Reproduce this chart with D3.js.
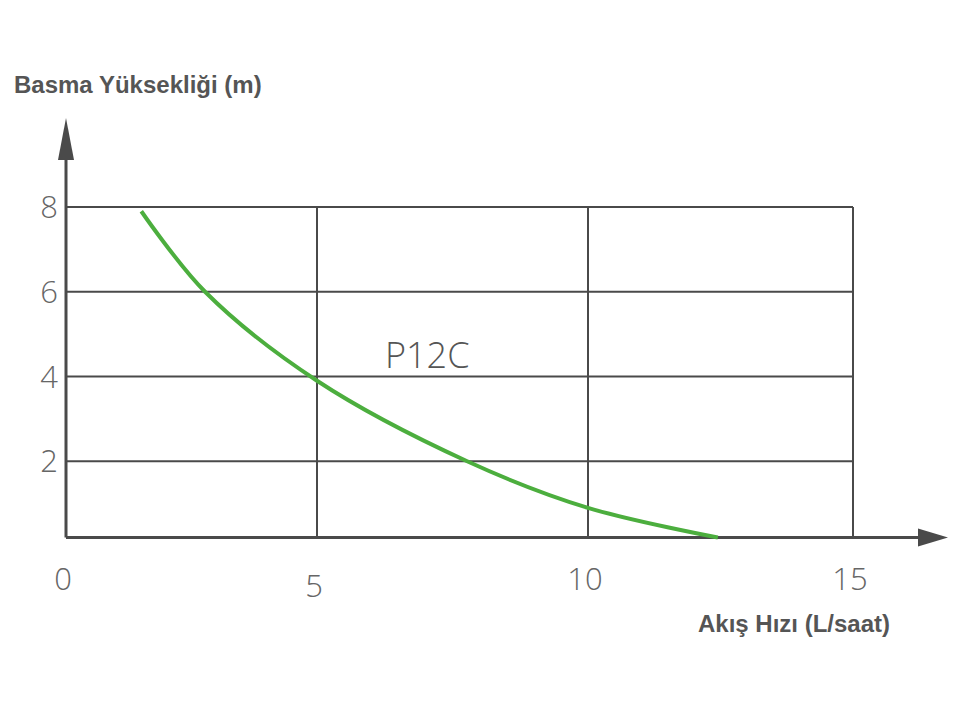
<!DOCTYPE html>
<html><head><meta charset="utf-8">
<script src="https://cdn.jsdelivr.net/npm/d3@7"></script>
<style>body{margin:0;background:#fff}</style>
</head><body>
<svg id="c" width="960" height="712"></svg>
<script>
const xTicks = [0, 5, 10, 15];
const yTicks = [2, 4, 6, 8];
const flow = [1.5, 2.77, 5, 7.77, 10, 12.45];
const head = [7.9, 6, 3.9, 2, 0.9, 0.2];
const seriesName = "P12C";

const svg = d3.select("#c");
const x = d3.scaleLinear().domain([0, 5, 10, 15]).range([66, 317, 588, 853]);
const y = d3.scaleLinear().domain([0, 8]).range([546, 207]);
const base = y(0.2);
const grey = "#4a4a4a";

// grid
svg.selectAll(".vg").data(xTicks.slice(1)).enter().append("line")
  .attr("x1", d => x(d)).attr("x2", d => x(d)).attr("y1", y(8)).attr("y2", base)
  .attr("stroke", grey).attr("stroke-width", 2);
svg.selectAll(".hg").data(yTicks).enter().append("line")
  .attr("x1", x(0)).attr("x2", x(15)).attr("y1", d => y(d)).attr("y2", d => y(d))
  .attr("stroke", grey).attr("stroke-width", 2);

// axes with arrows
svg.append("line").attr("x1", x(0)).attr("x2", 920).attr("y1", base).attr("y2", base)
  .attr("stroke", grey).attr("stroke-width", 3);
svg.append("path").attr("d", `M948,${base} L918,${base - 9} L918,${base + 9} Z`).attr("fill", grey);
svg.append("line").attr("x1", x(0)).attr("x2", x(0)).attr("y1", base).attr("y2", 145)
  .attr("stroke", grey).attr("stroke-width", 3);
svg.append("path").attr("d", `M${x(0)},118 L${x(0) - 8},160 L${x(0) + 8},160 Z`).attr("fill", grey);

// tick labels
svg.selectAll(".xt").data(xTicks).enter().append("text")
  .attr("x", d => x(d) - 3).attr("y", d => d === 5 ? 597 : 590)
  .attr("text-anchor", "middle").attr("font-family", "Open Sans, sans-serif")
  .attr("font-weight", 300).attr("font-size", 31).attr("fill", "#666").text(d => d);
svg.selectAll(".yt").data(yTicks).enter().append("text")
  .attr("x", 58).attr("y", d => y(d) + 11).attr("text-anchor", "end")
  .attr("font-family", "Open Sans, sans-serif").attr("font-weight", 300)
  .attr("font-size", 31).attr("fill", "#666").text(d => d);

// curve
const pts = flow.map((f, i) => [f, head[i]]);
svg.append("path").datum(pts)
  .attr("d", d3.line().x(d => x(d[0])).y(d => y(d[1])).curve(d3.curveCatmullRom))
  .attr("fill", "none").attr("stroke", "#4cae3e").attr("stroke-width", 4);

svg.append("text").attr("x", 385).attr("y", 368).attr("font-family", "Open Sans, sans-serif")
  .attr("font-weight", 300).attr("font-size", 36).attr("fill", "#555").text(seriesName);

// titles
svg.append("text").attr("x", 14).attr("y", 93).attr("font-family", "Liberation Sans, Arial, sans-serif")
  .attr("font-weight", "bold").attr("font-size", 24).attr("fill", "#555").text("Basma Yüksekliği (m)");
svg.append("text").attr("x", 890).attr("y", 632).attr("text-anchor", "end")
  .attr("font-family", "Liberation Sans, Arial, sans-serif")
  .attr("font-weight", "bold").attr("font-size", 24).attr("fill", "#555").text("Akış Hızı (L/saat)");
</script>
</body></html>
